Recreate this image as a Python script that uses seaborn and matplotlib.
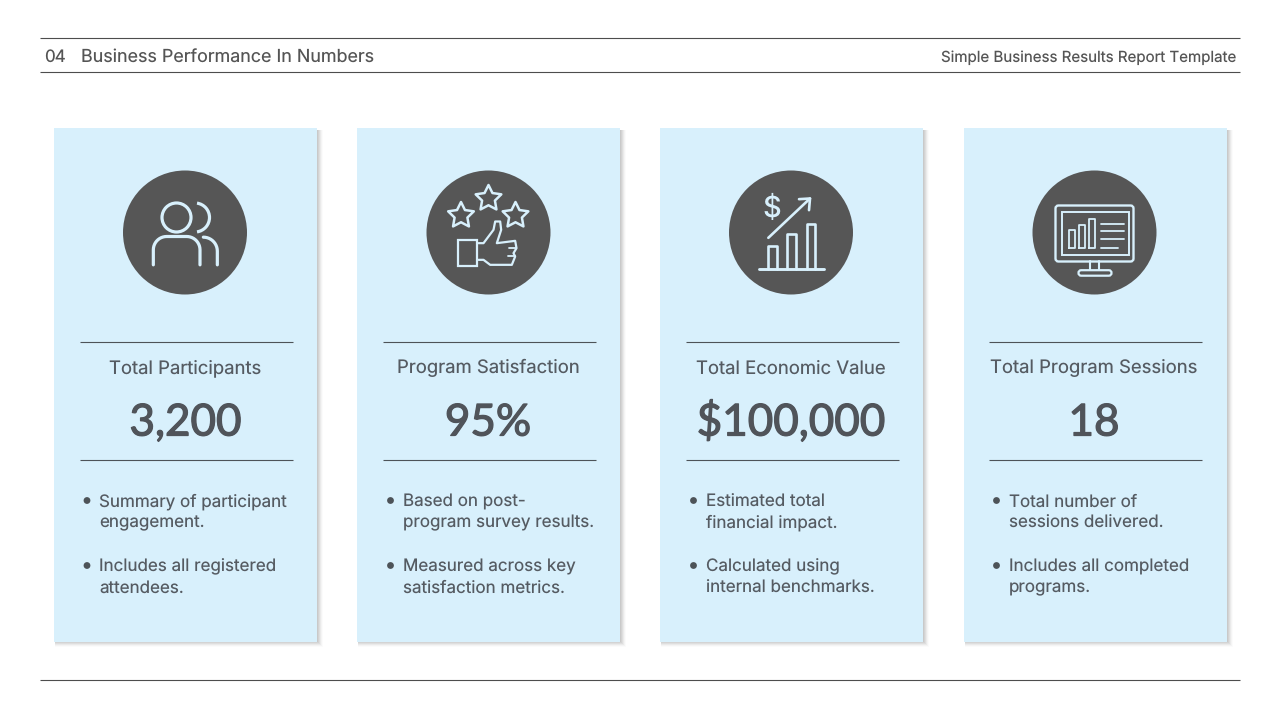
import numpy as np
import matplotlib
matplotlib.use("Agg")
import matplotlib.pyplot as plt
import matplotlib.patheffects as pe
from matplotlib.patches import Arc, Circle, FancyBboxPatch, Polygon, Rectangle
import seaborn as sns

section_no = "04"
section_title = "Business Performance In Numbers"
template_name = "Simple Business Results Report Template"

card_titles = ["Total Participants", "Program Satisfaction", "Total Economic Value", "Total Program Sessions"]
card_values = ["3,200", "95%", "$100,000", "18"]
bullets_one = [
    ["Summary of participant", "engagement."],
    ["Based on post-", "program survey results."],
    ["Estimated total", "financial impact."],
    ["Total number of", "sessions delivered."],
]
bullets_two = [
    ["Includes all registered", "attendees."],
    ["Measured across key", "satisfaction metrics."],
    ["Calculated using", "internal benchmarks."],
    ["Includes all completed", "programs."],
]

# layout in slide pixels
card_left = [54, 357, 660, 964]
card_width = 263
card_top = 128
card_height = 514
centers = [185, 488.5, 791, 1094.5]
rule_left = [80, 382.5, 685.5, 988.5]
text_left = [99, 403, 706, 1009]
dot_left = [87, 390.5, 693.5, 996.5]

CARD = "#d8f0fc"
DARK = "#565656"
TEXT = "#555b62"

sns.set_theme(style="white")
plt.rcParams["font.family"] = ["Inter", "DejaVu Sans"]
plt.rcParams["text.hinting"] = "no_hinting"
plt.rcParams["text.hinting_factor"] = 1

fig = plt.figure(figsize=(12.8, 7.2), dpi=100)
ax = fig.add_axes([0, 0, 1, 1])
ax.set_xlim(0, 1280)
ax.set_ylim(720, 0)
ax.axis("off")


def px(size):
    return size * 0.72


def stroke(cx, cy, xs, ys, lw=1.9):
    ax.plot(cx + np.array(xs) / 3, cy + np.array(ys) / 3, color=CARD, lw=lw, zorder=6,
            solid_capstyle="round", solid_joinstyle="round")


def people_icon(cx, cy):
    ax.add_patch(Circle((cx - 8.5, cy - 15), 14.5, fill=False, ec=CARD, lw=2.3, zorder=6))
    ax.add_patch(Arc((cx + 10, cy - 15), 29, 29, theta1=-82, theta2=82, ec=CARD, lw=2.3, zorder=6))
    t = np.linspace(0, np.pi / 2, 12)
    xs = np.r_[-95, -95 + 40 * (1 - np.cos(t)), 5 + 40 * np.sin(t), 45]
    ys = np.r_[97, 52 - 40 * np.sin(t), 12 + 40 * (1 - np.cos(t)), 97]
    stroke(cx, cy, xs, ys, lw=2.3)
    xs = np.r_[55 + 42 * np.sin(t), 97]
    ys = np.r_[14 + 42 * (1 - np.cos(t)), 97]
    stroke(cx, cy, xs, ys, lw=2.3)


def star(cx, cy, r):
    ang = np.deg2rad(-90 + 36 * np.arange(10))
    rad = np.where(np.arange(10) % 2 == 0, r, r * 0.5)
    pts = np.c_[cx + rad * np.cos(ang), cy + rad * np.sin(ang)]
    ax.add_patch(Polygon(pts, closed=True, fill=False, ec=CARD, lw=1.8, joinstyle="round", zorder=6))


def thumb_icon(cx, cy):
    star(cx - 27.5, cy - 17, 13.5)
    star(cx, cy - 34, 13.5)
    star(cx + 27, cy - 17, 13.5)
    ax.add_patch(Rectangle((cx - 31, cy + 7.5), 19, 26, fill=False, ec=CARD, lw=1.6, zorder=6))
    xs = [-30, -15, 15, 20, 35, 38, 25, 80, 84, 75, 80, 70, 5, -15, -30]
    ys = [32, 32, -8, -33, -33, -8, 32, 25, 47, 62, 72, 97, 97, 82, 82]
    stroke(cx, cy, xs, ys, lw=1.6)
    stroke(cx, cy, [60, 82], [47, 47], lw=1.3)
    stroke(cx, cy, [58, 78], [70, 70], lw=1.3)


def growth_icon(cx, cy):
    ax.text(cx - 19, cy - 16, "$", fontsize=px(29), color=CARD, ha="center", va="baseline", fontweight="medium", zorder=6)
    stroke(cx, cy, [-68, 57], [16, -102])
    stroke(cx, cy, [24, 57, 54], [-100, -102, -67])
    stroke(cx, cy, [-96, 99], [109, 109], lw=2.1)
    for x0, x1, top in [(-70, -43, 41), (-11, 14, 5), (47, 72, -25)]:
        stroke(cx, cy, [x0, x0, x1, x1], [109, top, top, 109])


def monitor_icon(cx, cy):
    ax.add_patch(FancyBboxPatch((cx - 39, cy - 27), 78, 56, boxstyle="round,pad=0,rounding_size=3",
                                fill=False, ec=CARD, lw=1.7, zorder=6))
    ax.add_patch(Rectangle((cx - 32.5, cy - 20.5), 67, 42.5, fill=False, ec=CARD, lw=1.4, zorder=6))
    for x0, top in [(-76, -7), (-46, -22), (-16, -40)]:
        stroke(cx, cy, [x0, x0, x0 + 18, x0 + 18, x0], [46, top, top, 46, 46], lw=1.3)
    for y, x1 in [(-27, 89), (-4, 89), (20, 89), (45, 70)]:
        stroke(cx, cy, [20, x1], [y, y], lw=1.3)
    stroke(cx, cy, [-13, -13], [86, 113], lw=1.5)
    stroke(cx, cy, [14, 14], [86, 113], lw=1.5)
    ax.add_patch(FancyBboxPatch((cx - 16, cy + 37.7), 33, 5.5, boxstyle="round,pad=0,rounding_size=2.7",
                                fill=False, ec=CARD, lw=1.6, zorder=6))


icons = [people_icon, thumb_icon, growth_icon, monitor_icon]

# header and footer rules
for y in [38, 72, 680]:
    ax.plot([40, 1240], [y, y], color="#4d4d4d", lw=0.8, solid_capstyle="butt")

ax.text(44, 62, section_no, fontsize=px(17), color="#555555", va="baseline")
ax.text(81, 62, section_title, fontsize=px(17.9), color="#555555", va="baseline")
ax.text(1236, 62, template_name, fontsize=px(15.1), color="#555555", va="baseline", ha="right")

for i in range(4):
    x0 = card_left[i]
    # soft shadow to the lower right
    for grow, alpha in [(6, 0.02), (5, 0.04), (4, 0.06), (3, 0.08), (2, 0.08), (1, 0.08)]:
        ax.add_patch(Rectangle((x0 + 1, card_top + 2), card_width + grow - 1, card_height + grow - 3,
                               fc="#555555", ec="none", alpha=alpha, zorder=1))
    ax.add_patch(Rectangle((x0, card_top), card_width, card_height, fc=CARD, ec="none", zorder=2))

    cx = centers[i]
    ax.add_patch(Circle((cx, 232.5), 62, fc=DARK, ec="none", zorder=5))
    icons[i](cx, 232.5)

    ax.plot([rule_left[i], rule_left[i] + 213], [341.5, 341.5], color="#4d5358", lw=0.8, zorder=4, solid_capstyle="butt")
    ax.plot([rule_left[i], rule_left[i] + 213], [460, 460], color="#4d5358", lw=0.8, zorder=4, solid_capstyle="butt")

    mid = rule_left[i] + 105.5
    ax.text(mid, 373.5, card_titles[i], fontsize=px(18.5), color=TEXT, ha="center", va="baseline", zorder=4)
    val = ax.text(mid, 435.5, card_values[i], fontsize=px(44), color="#50545a", ha="center", va="baseline",
                  family="Lato", zorder=4)
    val.set_path_effects([pe.withStroke(linewidth=0.9, foreground="#50545a")])

    for lines, y0 in [(bullets_one[i], 506.5), (bullets_two[i], 571.5)]:
        ax.add_patch(Circle((dot_left[i], y0 - 6), 3.4, fc="#4d5358", ec="none", zorder=4))
        for j, line in enumerate(lines):
            ax.text(text_left[i], y0 + j * 21, line, fontsize=px(17), color=TEXT, va="baseline", zorder=4)

fig.savefig("out.png", dpi=100, facecolor="white")
